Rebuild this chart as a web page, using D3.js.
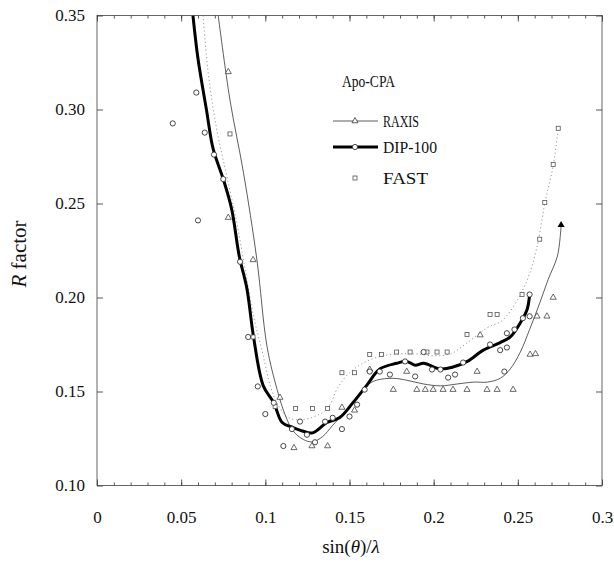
<!DOCTYPE html>
<html>
<head>
<meta charset="utf-8">
<script src="https://cdn.jsdelivr.net/npm/d3@7"></script>
<style>
  html, body { margin: 0; padding: 0; background: #fff; }
  svg { display: block; font-family: 'Liberation Serif', 'DejaVu Serif', serif; }
</style>
</head>
<body>
<svg class="r-chart"></svg>
<script>
// tick labels
const xTickLabels = ['0', '0.05', '0.1', '0.15', '0.2', '0.25', '0.3'];
const yTickLabels = ['0.10', '0.15', '0.20', '0.25', '0.30', '0.35'];

// smoothed curves, [sin(theta)/lambda, R]
const raxisLine = [
  [0.072, 0.35], [0.079, 0.305], [0.087, 0.2665], [0.095, 0.220], [0.101, 0.174],
  [0.107, 0.151], [0.112, 0.137], [0.1165, 0.129], [0.1225, 0.1245], [0.128, 0.1232],
  [0.134, 0.126], [0.140, 0.132], [0.150, 0.142], [0.160, 0.153], [0.166, 0.156],
  [0.176, 0.157], [0.184, 0.156], [0.194, 0.154], [0.204, 0.153], [0.214, 0.154],
  [0.2235, 0.155], [0.232, 0.155], [0.2395, 0.157], [0.2455, 0.162], [0.2515, 0.171],
  [0.257, 0.183], [0.263, 0.197], [0.268, 0.2096], [0.2735, 0.222], [0.2757, 0.238]
];

const dipLine = [
  [0.057, 0.35], [0.060, 0.327], [0.065, 0.30], [0.069, 0.279], [0.075, 0.263],
  [0.080, 0.247], [0.0845, 0.222], [0.089, 0.205], [0.093, 0.179], [0.0988, 0.153],
  [0.105, 0.144], [0.110, 0.1335], [0.116, 0.131], [0.122, 0.129], [0.128, 0.128],
  [0.1366, 0.1335], [0.144, 0.136], [0.152, 0.144], [0.160, 0.153], [0.168, 0.162],
  [0.178, 0.165], [0.184, 0.166], [0.189, 0.164], [0.194, 0.165], [0.204, 0.162],
  [0.2115, 0.163], [0.220, 0.166], [0.2295, 0.172], [0.2395, 0.176], [0.2455, 0.179],
  [0.2515, 0.1866], [0.2555, 0.1936], [0.257, 0.2016]
];

const fastLine = [
  [0.063, 0.35], [0.066, 0.32], [0.071, 0.29], [0.077, 0.265], [0.083, 0.24],
  [0.088, 0.215], [0.093, 0.19], [0.098, 0.172], [0.103, 0.153], [0.108, 0.142],
  [0.114, 0.136], [0.122, 0.135], [0.130, 0.137], [0.137, 0.141], [0.143, 0.152],
  [0.150, 0.16], [0.160, 0.166], [0.170, 0.169], [0.180, 0.170], [0.190, 0.170],
  [0.200, 0.169], [0.210, 0.170], [0.220, 0.176], [0.232, 0.184], [0.241, 0.188],
  [0.254, 0.206], [0.261, 0.2255], [0.266, 0.25], [0.271, 0.27], [0.274, 0.29]
];

// measured points
const raxisPoints = [
  [0.078, 0.32], [0.078, 0.2425], [0.0927, 0.22], [0.1087, 0.1468], [0.117, 0.120],
  [0.1277, 0.121], [0.137, 0.121], [0.1455, 0.1415], [0.153, 0.140], [0.162, 0.1617],
  [0.176, 0.151], [0.184, 0.1606], [0.190, 0.151], [0.195, 0.151], [0.1997, 0.151],
  [0.2056, 0.151], [0.2115, 0.151], [0.2198, 0.151], [0.2258, 0.1606], [0.2317, 0.151],
  [0.2377, 0.151], [0.2472, 0.151], [0.2573, 0.1697], [0.2605, 0.17], [0.2614, 0.19],
  [0.2673, 0.19], [0.271, 0.200], [0.2276, 0.18]
];

const dipPoints = [
  [0.045, 0.2926], [0.059, 0.309], [0.064, 0.2877], [0.0695, 0.276], [0.075, 0.263],
  [0.060, 0.241], [0.085, 0.219], [0.0898, 0.179], [0.0955, 0.1527], [0.100, 0.138],
  [0.105, 0.144], [0.1107, 0.121], [0.1158, 0.130], [0.1206, 0.134], [0.1247, 0.127],
  [0.1295, 0.123], [0.1355, 0.134], [0.140, 0.136], [0.1455, 0.130], [0.150, 0.1367],
  [0.1545, 0.143], [0.159, 0.151], [0.162, 0.1606], [0.168, 0.1606], [0.174, 0.159],
  [0.183, 0.166], [0.189, 0.158], [0.194, 0.171], [0.199, 0.1617], [0.204, 0.1617],
  [0.2086, 0.1574], [0.2127, 0.159], [0.2175, 0.1654], [0.2335, 0.175], [0.2395, 0.172],
  [0.2435, 0.1734], [0.2435, 0.181], [0.248, 0.183], [0.253, 0.189], [0.257, 0.2016],
  [0.242, 0.1606], [0.257, 0.19]
];

const fastPoints = [
  [0.079, 0.287], [0.0927, 0.179], [0.1058, 0.142], [0.118, 0.141], [0.128, 0.141],
  [0.137, 0.141], [0.1455, 0.160], [0.153, 0.160], [0.162, 0.1697], [0.169, 0.1697],
  [0.178, 0.171], [0.186, 0.171], [0.196, 0.171], [0.202, 0.171], [0.208, 0.171],
  [0.2198, 0.1803], [0.2335, 0.191], [0.2377, 0.191], [0.2525, 0.2016], [0.263, 0.231],
  [0.266, 0.2505], [0.271, 0.2707], [0.274, 0.290]
];

const legendItems = ['RAXIS', 'DIP-100', 'FAST'];

const chartWidth = 614,
      chartHeight = 563,
      plotLeft = 97,
      plotRight = 602,
      plotTop = 15.5,
      plotBottom = 485.5;

const chart = d3.select('.r-chart')
                .attr('width', chartWidth)
                .attr('height', chartHeight);

const xScale = d3.scaleLinear()
                 .domain([0, 0.3])
                 .range([plotLeft, plotRight]);

const yScale = d3.scaleLinear()
                 .domain([0.10, 0.35])
                 .range([plotBottom, plotTop]);

const xTicks = xTickLabels.map(Number);
const yTicks = yTickLabels.map(Number);

chart.append('defs')
     .append('clipPath')
     .attr('id', 'plot-clip')
     .append('rect')
     .attr('x', plotLeft)
     .attr('y', plotTop)
     .attr('width', plotRight - plotLeft)
     .attr('height', plotBottom - plotTop);

// frame
chart.append('rect')
     .attr('x', plotLeft)
     .attr('y', plotTop)
     .attr('width', plotRight - plotLeft)
     .attr('height', plotBottom - plotTop)
     .attr('fill', 'none')
     .attr('stroke', '#555')
     .attr('stroke-width', 0.9);

// minor ticks, top and bottom
const minorTicks = xScale.ticks(30);

chart.append('g')
     .attr('class', 'axis')
     .attr('transform', 'translate(0, ' + plotBottom + ')')
     .call(d3.axisBottom(xScale).tickValues(minorTicks).tickSizeInner(-3).tickSizeOuter(0).tickFormat(''));

chart.append('g')
     .attr('class', 'axis')
     .attr('transform', 'translate(0, ' + plotTop + ')')
     .call(d3.axisTop(xScale).tickValues(minorTicks).tickSizeInner(-3).tickSizeOuter(0).tickFormat(''));

// major axes
chart.append('g')
     .attr('class', 'axis x-axis')
     .attr('transform', 'translate(0, ' + plotBottom + ')')
     .call(d3.axisBottom(xScale)
             .tickValues(xTicks)
             .tickSizeInner(-6)
             .tickSizeOuter(0)
             .tickPadding(25)
             .tickFormat((d, i) => xTickLabels[i]));

chart.append('g')
     .attr('class', 'axis')
     .attr('transform', 'translate(0, ' + plotTop + ')')
     .call(d3.axisTop(xScale).tickValues(xTicks).tickSizeInner(-6).tickSizeOuter(0).tickFormat(''));

chart.append('g')
     .attr('class', 'axis y-axis')
     .attr('transform', 'translate(' + plotLeft + ', 0)')
     .call(d3.axisLeft(yScale)
             .tickValues(yTicks)
             .tickSizeInner(-6)
             .tickSizeOuter(0)
             .tickPadding(12)
             .tickFormat((d, i) => yTickLabels[i]));

chart.append('g')
     .attr('class', 'axis')
     .attr('transform', 'translate(' + plotRight + ', 0)')
     .call(d3.axisRight(yScale).tickValues(yTicks).tickSizeInner(-6).tickSizeOuter(0).tickFormat(''));

chart.selectAll('.axis .domain').remove();
chart.selectAll('.axis line')
     .attr('stroke', '#444')
     .attr('stroke-width', 0.9);
chart.selectAll('.axis text')
     .attr('fill', '#111')
     .attr('font-family', "'Liberation Serif', serif")
     .attr('font-size', 17);

// axis titles
const xTitle = chart.append('text')
                    .attr('x', 351)
                    .attr('y', 553)
                    .attr('text-anchor', 'middle')
                    .attr('font-size', 19)
                    .attr('fill', '#111');
xTitle.append('tspan').text('sin(');
xTitle.append('tspan').attr('font-style', 'italic').text('θ');
xTitle.append('tspan').text(')/');
xTitle.append('tspan').attr('font-style', 'italic').text('λ');

const yTitle = chart.append('text')
                    .attr('transform', 'translate(26, 254) rotate(-90)')
                    .attr('text-anchor', 'middle')
                    .attr('font-size', 21)
                    .attr('fill', '#111');
yTitle.append('tspan').attr('font-style', 'italic').text('R');
yTitle.append('tspan').text(' factor');

// curves
const curve = d3.line()
                .x(d => xScale(d[0]))
                .y(d => yScale(d[1]))
                .curve(d3.curveCatmullRom.alpha(0.5));

const plot = chart.append('g')
                  .attr('clip-path', 'url(#plot-clip)');

plot.append('path')
    .datum(fastLine)
    .attr('d', curve)
    .attr('fill', 'none')
    .attr('stroke', '#999')
    .attr('stroke-width', 1)
    .attr('stroke-dasharray', '1.2,2.6');

plot.append('path')
    .datum(raxisLine)
    .attr('d', curve)
    .attr('fill', 'none')
    .attr('stroke', '#333')
    .attr('stroke-width', 0.8);

plot.append('path')
    .datum(dipLine)
    .attr('d', curve)
    .attr('fill', 'none')
    .attr('stroke', '#000')
    .attr('stroke-width', 3);

// end arrow on the RAXIS curve
const raxisEnd = raxisLine[raxisLine.length - 1];
chart.append('path')
     .attr('d', d3.symbol().type(d3.symbolTriangle).size(22))
     .attr('transform', 'translate(' + xScale(raxisEnd[0]) + ', ' + (yScale(raxisEnd[1]) - 1) + ')')
     .attr('fill', '#000');

// markers
const triangle = d3.symbol().type(d3.symbolTriangle).size(16);

chart.append('g')
     .selectAll('rect')
     .data(fastPoints)
     .enter()
     .append('rect')
     .attr('x', d => xScale(d[0]) - 2)
     .attr('y', d => yScale(d[1]) - 2)
     .attr('width', 4)
     .attr('height', 4)
     .attr('fill', '#fff')
     .attr('stroke', '#555')
     .attr('stroke-width', 0.8);

chart.append('g')
     .selectAll('path')
     .data(raxisPoints)
     .enter()
     .append('path')
     .attr('d', triangle)
     .attr('transform', d => 'translate(' + xScale(d[0]) + ', ' + yScale(d[1]) + ')')
     .attr('fill', '#fff')
     .attr('stroke', '#444')
     .attr('stroke-width', 0.8);

chart.append('g')
     .selectAll('circle')
     .data(dipPoints)
     .enter()
     .append('circle')
     .attr('cx', d => xScale(d[0]))
     .attr('cy', d => yScale(d[1]))
     .attr('r', 2.6)
     .attr('fill', '#fff')
     .attr('stroke', '#333')
     .attr('stroke-width', 0.9);

// legend
const legend = chart.append('g')
                    .attr('font-size', 17)
                    .attr('fill', '#111');

legend.append('text')
      .attr('x', 342)
      .attr('y', 87)
      .attr('textLength', 53)
      .attr('lengthAdjust', 'spacingAndGlyphs')
      .text('Apo-CPA');

const legendY = [121, 147, 178];
const legendWidths = [36, 54, 45];

legend.selectAll('text.item')
      .data(legendItems)
      .enter()
      .append('text')
      .attr('class', 'item')
      .attr('x', 383)
      .attr('y', (d, i) => legendY[i] + 6)
      .attr('textLength', (d, i) => legendWidths[i])
      .attr('lengthAdjust', 'spacingAndGlyphs')
      .text(d => d);

legend.append('line')
      .attr('x1', 333).attr('x2', 378)
      .attr('y1', legendY[0]).attr('y2', legendY[0])
      .attr('stroke', '#333')
      .attr('stroke-width', 0.8);

legend.append('path')
      .attr('d', triangle)
      .attr('transform', 'translate(355, ' + legendY[0] + ')')
      .attr('fill', '#fff')
      .attr('stroke', '#333')
      .attr('stroke-width', 0.8);

legend.append('line')
      .attr('x1', 333).attr('x2', 378)
      .attr('y1', legendY[1]).attr('y2', legendY[1])
      .attr('stroke', '#000')
      .attr('stroke-width', 3);

legend.append('circle')
      .attr('cx', 355)
      .attr('cy', legendY[1])
      .attr('r', 2.6)
      .attr('fill', '#fff')
      .attr('stroke', '#333')
      .attr('stroke-width', 0.9);

legend.append('rect')
      .attr('x', 353)
      .attr('y', legendY[2] - 2)
      .attr('width', 4)
      .attr('height', 4)
      .attr('fill', '#fff')
      .attr('stroke', '#555')
      .attr('stroke-width', 0.8);
</script>
</body>
</html>
